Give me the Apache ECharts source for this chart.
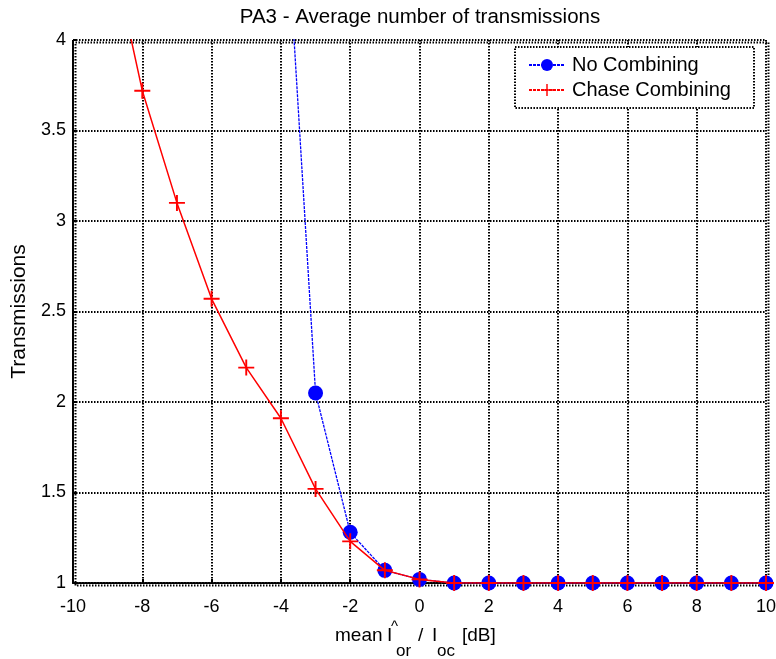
<!DOCTYPE html>
<html><head><meta charset="utf-8">
<script src="https://cdn.jsdelivr.net/npm/echarts@6/dist/echarts.min.js"></script>
<style>html,body{margin:0;padding:0;background:#fff}#c{width:776px;height:659px}</style>
</head><body><div id="c"></div>
<script>
var xNoComb = [-4, -3, -2, -1, 0, 1, 2, 3, 4, 5, 6, 7, 8, 9, 10];
var yNoComb = [5.2, 2.05, 1.28, 1.07, 1.02, 1.0, 1.0, 1.0, 1.0, 1.0, 1.0, 1.0, 1.0, 1.0, 1.0];
var xChase = [-9, -8, -7, -6, -5, -4, -3, -2, -1, 0, 1, 2, 3, 4, 5, 6, 7, 8, 9, 10];
var yChase = [4.6, 3.72, 3.10, 2.57, 2.19, 1.91, 1.52, 1.23, 1.07, 1.02, 1.0, 1.0, 1.0, 1.0, 1.0, 1.0, 1.0, 1.0, 1.0, 1.0];
var seriesNames = ['No Combining', 'Chase Combining'];
var titleText = 'PA3 - Average number of transmissions';
var yAxisTitle = 'Transmissions';

function pairs(xs, ys){ return xs.map(function(x,i){ return [x, ys[i]]; }); }
var FONT = '"Liberation Sans", Arial, sans-serif';
var plus = 'path://M0,4.4H10V5.6H0Z M4.4,0H5.6V10H4.4Z';
var gridLine = { color: '#000', width: 2, type: [1.5, 1.5] };

function t(txt, x, y, size){
  return { type: 'text', x: x, y: y, silent: true,
    style: { text: txt, font: size + 'px ' + FONT, fill: '#000', verticalAlign: 'middle', align: 'left' } };
}

var chart = echarts.init(document.getElementById('c'), null, {renderer:'canvas'});
chart.setOption({
  animation: false,
  backgroundColor: '#fff',
  title: { text: titleText, left: 415, textAlign: 'center', top: 2,
    textStyle: { fontFamily: FONT, fontSize: 20.5, fontWeight: 'normal', color: '#000' } },
  grid: { left: 73, right: 10, top: 40, bottom: 76, containLabel: false, outerBoundsMode: 'none' },
  legend: {
    orient: 'vertical', left: 515, top: 47,
    padding: [8, 23, 8, 13], itemGap: 5, itemWidth: 36, itemHeight: 15,
    backgroundColor: '#fff', borderColor: '#000', borderWidth: 2, borderType: [1.5, 1.5],
    textStyle: { fontFamily: FONT, fontSize: 20, color: '#000', padding: [0, 0, 0, 2] },
    data: [
      { name: seriesNames[0], lineStyle: { type: [3, 1] } },
      { name: seriesNames[1], lineStyle: { type: [3, 1] } }
    ]
  },
  xAxis: {
    type: 'value', min: -10, max: 10, interval: 2,
    axisLine: { onZero: false, lineStyle: gridLine },
    axisTick: { inside: true, length: 4, lineStyle: { color: '#000', width: 2 } },
    axisLabel: { fontFamily: FONT, fontSize: 18, color: '#000', margin: 15 },
    splitLine: { show: true, lineStyle: gridLine }
  },
  yAxis: {
    type: 'value', min: 1, max: 4, interval: 0.5,
    name: yAxisTitle, nameLocation: 'middle', nameGap: 43, nameRotate: 90,
    nameTextStyle: { fontFamily: FONT, fontSize: 21, color: '#000' },
    axisLine: { show: true, onZero: false, lineStyle: gridLine },
    axisTick: { show: true, inside: true, length: 4, lineStyle: { color: '#000', width: 2 } },
    axisLabel: { fontFamily: FONT, fontSize: 18, color: '#000', margin: 7 },
    splitLine: { show: true, lineStyle: gridLine }
  },
  graphic: [
    { type: 'rect', left: 73, top: 40, shape: { width: 693, height: 543 }, silent: true, z: 0,
      style: { fill: 'none', stroke: '#000', lineWidth: 2, lineDash: [1.5, 1.5] } },
    t('mean', 335, 636, 19),
    t('I', 387, 636, 19),
    t('^', 391, 627, 15),
    t('or', 396, 651, 17),
    t('/', 418, 636, 19),
    t('I', 432, 636, 19),
    t('oc', 437, 651, 17),
    t('[dB]', 462, 636, 19)
  ],
  series: [
    { name: seriesNames[0], type: 'line', data: pairs(xNoComb, yNoComb), clip: true,
      symbol: 'circle', symbolSize: 15, showAllSymbol: true, z: 3,
      lineStyle: { color: '#0000ff', width: 1.3, type: [3, 1] },
      itemStyle: { color: '#0000ff' } },
    { name: seriesNames[1], type: 'line', data: pairs(xChase, yChase), clip: true,
      symbol: plus, symbolSize: 16, showAllSymbol: true, z: 4,
      lineStyle: { color: '#ff0000', width: 1.5 },
      itemStyle: { color: '#ff0000' } }
  ]
});
</script></body></html>
